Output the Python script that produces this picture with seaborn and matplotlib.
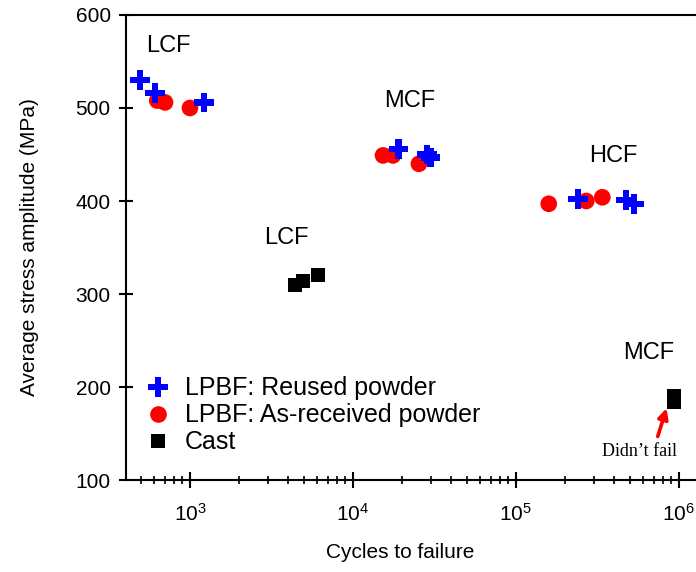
import matplotlib
matplotlib.use("Agg")
import matplotlib.pyplot as plt
import seaborn as sns
import pandas as pd
import numpy as np
from matplotlib.lines import Line2D

sns.set_theme(style="white")
plt.rcParams['font.family'] = ['Liberation Sans', 'DejaVu Sans']
plt.rcParams['text.color'] = 'black'
plt.rcParams['axes.labelcolor'] = 'black'

# Data
reused_cycles = [493, 610, 1218, 19100, 28500, 30000, 240000, 473000, 530000]
reused_stress = [530, 516, 506, 456, 450, 447, 402, 401, 397]
asrec_cycles = [630, 703, 1000, 15300, 17600, 25400, 159000, 270000, 339000]
asrec_stress = [508, 506, 500, 449, 449, 440, 397, 400, 404]
cast_cycles = [4400, 4930, 6100, 934000, 934000]
cast_stress = [310, 314, 320, 184, 190]

series_names = ["LPBF: Reused powder", "LPBF: As-received powder", "Cast"]

df = pd.concat([
    pd.DataFrame({"cycles": reused_cycles, "stress": reused_stress, "group": series_names[0]}),
    pd.DataFrame({"cycles": asrec_cycles, "stress": asrec_stress, "group": series_names[1]}),
    pd.DataFrame({"cycles": cast_cycles, "stress": cast_stress, "group": series_names[2]}),
])

fig = plt.figure(figsize=(6.96, 5.72), dpi=100)
ax = fig.add_axes([0.181, 0.1608, 0.839, 0.813])

palette = {series_names[0]: "#0000ff", series_names[1]: "#ff0000", series_names[2]: "#000000"}
markers = {series_names[0]: "P", series_names[1]: "o", series_names[2]: "s"}
sizes_pt = {series_names[0]: 14, series_names[1]: 12, series_names[2]: 10}

for name in [series_names[1], series_names[0], series_names[2]]:
    sub = df[df["group"] == name]
    sns.scatterplot(data=sub, x="cycles", y="stress", ax=ax, color=palette[name],
                    marker=markers[name], s=sizes_pt[name] ** 2, edgecolor="none",
                    linewidth=0, legend=False, zorder=3)

ax.set_xscale("log")
ax.set_xlim(405, 1.55e6)
ax.set_ylim(100, 600)
ax.set_yticks([100, 200, 300, 400, 500, 600])
ax.xaxis.set_major_locator(matplotlib.ticker.LogLocator(base=10))
ax.xaxis.set_minor_locator(matplotlib.ticker.LogLocator(base=10, subs=np.arange(2, 10)))
ax.xaxis.set_minor_formatter(matplotlib.ticker.NullFormatter())

for s in ax.spines.values():
    s.set_color("black")
    s.set_linewidth(1.5)

ax.tick_params(axis="both", which="both", bottom=True, left=True, top=False, right=False)
ax.tick_params(axis="y", which="major", direction="inout", length=10, width=1.5,
               labelsize=15, colors="black", pad=6)
ax.tick_params(axis="x", which="major", direction="inout", length=11, width=1.5,
               labelsize=15, colors="black", pad=11)
ax.tick_params(axis="x", which="minor", direction="inout", length=6, width=1.2, colors="black")

ax.set_xlabel("Cycles to failure", fontsize=15, labelpad=13, x=0.469, color="black")
ax.set_ylabel("Average stress amplitude (MPa)", fontsize=15, labelpad=26, color="black")

handles = [Line2D([], [], linestyle="none", marker=markers[n], color=palette[n],
                  markersize=sizes_pt[n], markeredgewidth=0) for n in series_names]
ax.legend(handles, series_names, loc="lower left", bbox_to_anchor=(0.0, 0.012),
          frameon=False, fontsize=18, handletextpad=0.55, labelspacing=0.12,
          borderaxespad=0.4, handlelength=1.0, labelcolor="black")

# Annotations
ax.text(733, 567, "LCF", fontsize=17, ha="center", va="center", color="black")
ax.text(22400, 508, "MCF", fontsize=17, ha="center", va="center", color="black")
ax.text(394000, 448, "HCF", fontsize=17, ha="center", va="center", color="black")
ax.text(3880, 360, "LCF", fontsize=17, ha="center", va="center", color="black")
ax.text(655000, 237, "MCF", fontsize=17, ha="center", va="center", color="black")
ax.text(575000, 131, "Didn\u2019t fail", fontsize=13, ha="center", va="center",
        family="Liberation Serif", color="black")
ax.annotate("", xy=(850000, 180), xytext=(733000, 144),
            arrowprops=dict(arrowstyle="-|>", color="red", lw=2.6, mutation_scale=15))

fig.savefig("out.png", dpi=100)
